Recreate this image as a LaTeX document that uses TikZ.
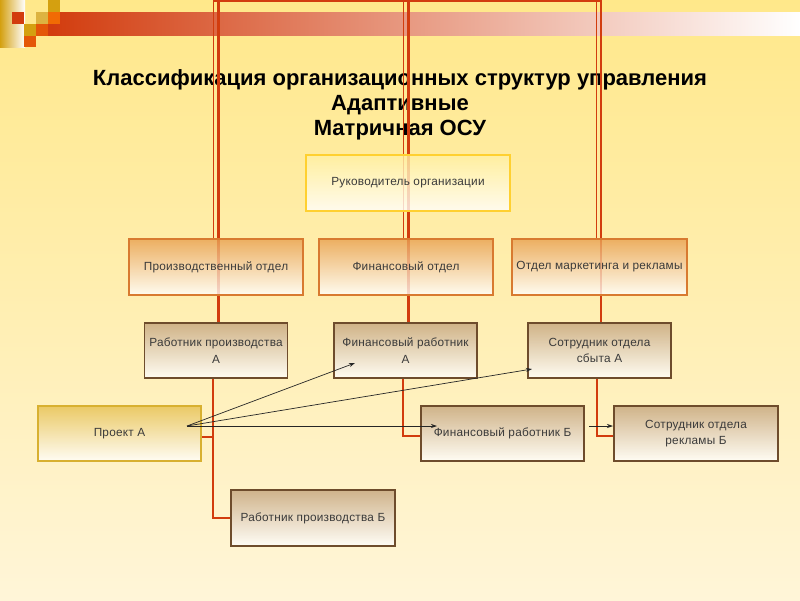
\documentclass[tikz,border=0pt]{standalone}
\usepackage{fontspec}
\setmainfont{Liberation Sans}
\newfontfamily\boxfont[LetterSpace=2]{Liberation Sans}
\usetikzlibrary{arrows.meta}
\definecolor{bgtop}{HTML}{FFE88A}
\definecolor{bgbot}{HTML}{FFF5D8}
\definecolor{redl}{HTML}{D23C0E}
\definecolor{gold}{HTML}{D4A010}
\definecolor{txt}{HTML}{3A3A3A}
\definecolor{bossdraw}{HTML}{FFD030}
\definecolor{bosstop}{HTML}{FFF0A0}
\definecolor{deptdraw}{HTML}{D87A30}
\definecolor{depttop}{HTML}{E8A050}
\definecolor{workdraw}{HTML}{6E4C2C}
\definecolor{worktop}{HTML}{C4A47C}
\definecolor{projdraw}{HTML}{D8B030}
\definecolor{projtop}{HTML}{E6C050}
\pgfdeclarelayer{back}
\pgfdeclarelayer{lines}
\pgfsetlayers{back,lines,main}
\tikzset{
  box/.style={draw, line width=1.4pt, fill opacity=0.8, text opacity=1, align=center,
    font=\boxfont\fontsize{11.8}{16.5}\selectfont, text=txt, inner sep=2pt},
  bossbox/.style={box, draw=bossdraw, top color=bosstop, bottom color=white, minimum width=204pt, minimum height=56pt},
  deptbox/.style={box, draw=deptdraw, top color=depttop, bottom color=white, minimum width=174pt, minimum height=56pt},
  workbox/.style={box, draw=workdraw, top color=worktop, bottom color=white, minimum width=143pt, minimum height=55pt},
  projbox/.style={box, draw=projdraw, top color=projtop, bottom color=white, minimum width=163pt, minimum height=55pt},
  conn/.style={draw=redl, line width=2.6pt},
  thinconn/.style={draw=redl, line width=1.5pt},
  arr/.style={draw=black!85, line width=0.7pt, -{Stealth[length=6pt,width=4pt]}},
  titletext/.style={font=\bfseries\fontsize{22}{25}\selectfont, anchor=base, inner sep=0pt},
}
\begin{document}
\begin{tikzpicture}[x=1pt,y=-1pt]
\useasboundingbox (0,0) rectangle (800,600);
\begin{pgfonlayer}{back}
% background
\shade[top color=bgtop, bottom color=bgbot] (0,0) rectangle (800,600);
% top decoration
\shade[left color=redl, right color=white] (48,12) rectangle (800,35);
\shade[left color=gold, right color=white] (0,0) rectangle (25,47);
\fill[redl] (12,12) rectangle (24,24);
\fill[gold] (48,0) rectangle (60,12);
\fill[gold!80!white] (36,12) rectangle (48,24);
\fill[orange!70!redl] (48,12) rectangle (60,24);
\fill[gold] (24,24) rectangle (36,36);
\fill[orange!40!redl] (36,24) rectangle (48,36);
\fill[orange!40!redl] (24,36) rectangle (36,47);
% title
\node[titletext] (title1) at (400,85) {Классификация организационных структур управления};
\node[titletext] (title2) at (400,110) {Адаптивные};
\node[titletext] (title3) at (400,135) {Матричная ОСУ};
\end{pgfonlayer}
% nodes
\node[bossbox] (boss) at (408,183) {Руководитель организации};
\node[deptbox] (dprod) at (216,267) {Производственный отдел};
\node[deptbox] (dfin) at (406,267) {Финансовый отдел};
\node[deptbox, minimum width=175pt] (dmkt) at (599.5,267) {Отдел маркетинга и рекламы};
\node[workbox] (wprodA) at (216,350.5) {Работник производства\\А};
\node[workbox] (wfinA) at (405.5,350.5) {Финансовый работник\\А};
\node[workbox] (wsalA) at (599.5,350.5) {Сотрудник отдела\\сбыта А};
\node[projbox] (proj) at (119.5,433.5) {Проект А};
\node[workbox, minimum width=163pt] (wfinB) at (502.5,433.5) {Финансовый работник Б};
\node[workbox, minimum width=164pt] (wadvB) at (696,433.5) {Сотрудник отдела\\рекламы Б};
\node[workbox, minimum width=164pt, minimum height=56pt] (wprodB) at (313,518) {Работник производства Б};
% coordinates
\coordinate (tl1) at (213.5,0);
\coordinate (tl2) at (218.5,0);
\coordinate (tm1) at (403.5,0);
\coordinate (tm2) at (408.5,0);
\coordinate (tr1) at (596.5,0);
\coordinate (tr2) at (601,0);
\coordinate (src) at (187,426);
\coordinate (eA) at (355,363);
\coordinate (eS) at (532,369);
\coordinate (eB) at (437,426);
\coordinate (sR) at (589,426);
\coordinate (eR) at (613,426);
\begin{pgfonlayer}{lines}
\draw[conn] (213.5,1) -- (601,1);
\draw[thinconn] (tl1) -- (tl1 |- dprod.north);
\draw[conn] (tl2) -- (tl2 |- wprodA.north);
\draw[thinconn] (tm1) -- (tm1 |- dfin.north);
\draw[conn] (tm2) -- (tm2 |- wfinA.north);
\draw[thinconn] (tr1) -- (tr1 |- dmkt.north);
\draw[conn] (tr2) -- (tr2 |- wsalA.north);
\draw[conn] ([xshift=-3pt]wprodA.south) |- (wprodB.west);
\draw[conn] ([xshift=-3pt]wprodA.south) |- ([yshift=-3.5pt]proj.east);
\draw[conn] ([xshift=-2.5pt]wfinA.south) |- ([yshift=-2.5pt]wfinB.west);
\draw[conn] ([xshift=-2.5pt]wsalA.south) |- ([yshift=-2.5pt]wadvB.west);
\end{pgfonlayer}
% arrows
\draw[arr] (src) -- (eA);
\draw[arr] (src) -- (eS);
\draw[arr] (src) -- (eB);
\draw[arr] (sR) -- (eR);
\end{tikzpicture}
\end{document}
